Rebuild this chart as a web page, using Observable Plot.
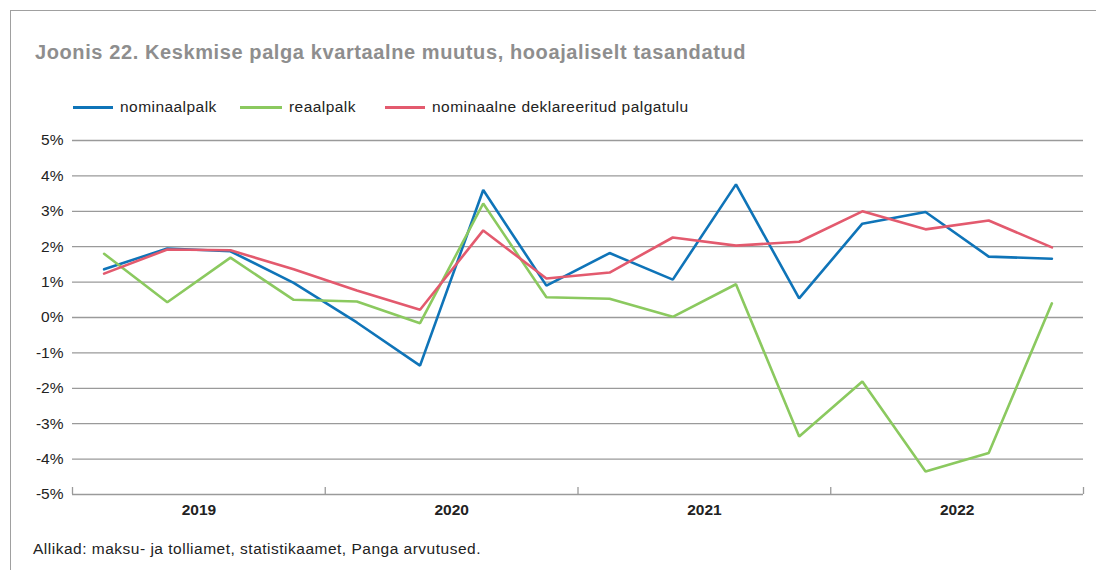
<!DOCTYPE html>
<html>
<head>
<meta charset="utf-8">
<script src="https://cdn.jsdelivr.net/npm/d3@7"></script>
<script src="https://cdn.jsdelivr.net/npm/@observablehq/plot@0.6"></script>
<style>
  html, body { margin: 0; padding: 0; background: #fff; }
  body { width: 1096px; height: 570px; position: relative; overflow: hidden; font-family: "Liberation Sans", Arial, sans-serif; }
  #frame { position: absolute; left: 10px; top: 10px; width: 1096px; height: 570px; border-left: 1.5px solid #a0a0a0; border-top: 1.5px solid #a0a0a0; }
  #title { position: absolute; left: 35px; top: 41px; font-size: 20px; color: #8e8e8e; font-weight: bold; white-space: nowrap; letter-spacing: 0.6px; }
  #legend { position: absolute; left: 0; top: 98px; width: 1096px; height: 20px; }
  .lg { position: absolute; top: 0; display: flex; align-items: center; font-size: 15.5px; letter-spacing: 0.45px; color: #222; white-space: nowrap; }
  .sw { display: inline-block; height: 3px; margin-right: 7px; }
  #chart { position: absolute; left: 0; top: 125px; }
  #caption { position: absolute; left: 33px; top: 540px; font-size: 15.5px; letter-spacing: 0.5px; color: #222; white-space: nowrap; }
</style>
</head>
<body>
<div id="frame"></div>
<div id="title">Joonis 22. Keskmise palga kvartaalne muutus, hooajaliselt tasandatud</div>
<div id="legend"></div>
<div id="chart"></div>
<div id="caption">Allikad: maksu- ja tolliamet, statistikaamet, Panga arvutused.</div>
<script>
// Quarters 2019 Q1 ... 2022 Q4
const years = ["2019", "2020", "2021", "2022"];
const quarters = ["I", "II", "III", "IV"];
const seriesNames = ["nominaalpalk", "reaalpalk", "nominaalne deklareeritud palgatulu"];
const seriesColors = ["#0f74b8", "#8bc95f", "#e35a6e"];

const nominaalpalk = [1.36, 1.95, 1.87, 0.98, -0.14, -1.36, 3.6, 0.9, 1.82, 1.07, 3.76, 0.54, 2.65, 2.98, 1.72, 1.66];
const reaalpalk   = [1.8, 0.43, 1.69, 0.5, 0.45, -0.16, 3.22, 0.57, 0.53, 0.02, 0.94, -3.36, -1.81, -4.35, -3.83, 0.4];
const deklareeritud = [1.24, 1.92, 1.9, 1.36, 0.76, 0.22, 2.46, 1.1, 1.27, 2.26, 2.03, 2.14, 3.0, 2.49, 2.74, 1.98];

const yTicks = [-5, -4, -3, -2, -1, 0, 1, 2, 3, 4, 5];

const seriesValues = [nominaalpalk, reaalpalk, deklareeritud];
const data = [];
seriesNames.forEach((name, s) => {
  seriesValues[s].forEach((v, i) => {
    data.push({series: name, idx: i + 0.5, value: v});
  });
});

// legend
const legendX = [73, 240, 385];
const swW = [40, 42, 40];
const legend = document.getElementById("legend");
seriesNames.forEach((n, i) => {
  const d = document.createElement("div");
  d.className = "lg";
  d.style.left = legendX[i] + "px";
  d.innerHTML = `<span class="sw" style="width:${swW[i]}px;background:${seriesColors[i]}"></span>${n}`;
  legend.appendChild(d);
});

const nQ = years.length * quarters.length;
const yearCenters = years.map((y, i) => i * 4 + 2);
const yearBounds = d3.range(0, nQ + 1, 4);

const chart = Plot.plot({
  width: 1096,
  height: 400,
  marginLeft: 72,
  marginRight: 13,
  marginTop: 15,
  marginBottom: 31,
  style: {fontFamily: "Liberation Sans, Arial, sans-serif", fontSize: "15px", color: "#222", background: "transparent"},
  x: {domain: [0, nQ], label: null},
  y: {domain: [-5, 5], label: null},
  color: {domain: seriesNames, range: seriesColors},
  marks: [
    Plot.ruleY(yTicks.filter(t => t > -5), {stroke: "#9a9a9a", strokeWidth: 1.3, strokeOpacity: 1}),
    Plot.ruleY([-5], {stroke: "#9a9a9a", strokeWidth: 1.5}),
    Plot.axisY({ticks: yTicks, tickSize: 0, tickPadding: 9, tickFormat: d => d + "%", fontSize: 15.5, fill: "#222", label: null}),
    Plot.axisX({ticks: yearBounds, tickSize: -7, tickFormat: () => "", stroke: "#9a9a9a", strokeWidth: 1.3, strokeOpacity: 1, label: null}),
    Plot.axisX({ticks: yearCenters, tickSize: 0, tickPadding: 9, tickFormat: d => years[(d - 2) / 4], fontWeight: "bold", fontSize: 15.5, fill: "#222", label: null}),
    Plot.line(data, {x: "idx", y: "value", z: "series", stroke: "series", strokeWidth: 2.6, strokeLinejoin: "miter"})
  ]
});
document.getElementById("chart").appendChild(chart);
</script>
</body>
</html>
